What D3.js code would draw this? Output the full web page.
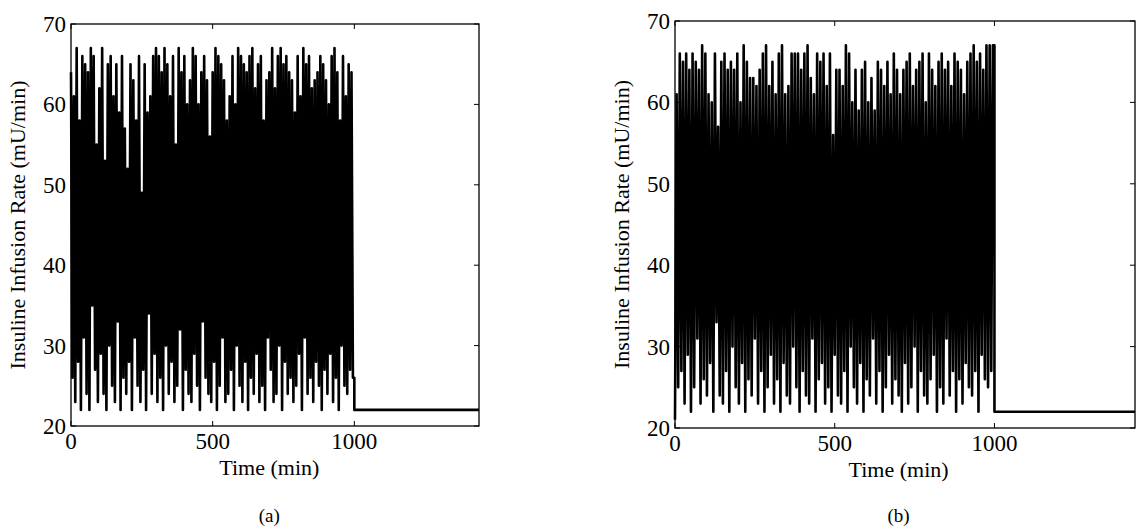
<!DOCTYPE html>
<html><head><meta charset="utf-8">
<script src="https://cdn.jsdelivr.net/npm/d3@7"></script>
<style>body{margin:0;background:#fff}svg{display:block}</style>
</head><body><svg id="c" width="1136" height="531" font-family="'Liberation Serif','Times New Roman',Times,'DejaVu Serif',serif"></svg>
<script>
// rates, one value every 5 min from 0 to 995, then flat at 22
var seriesA = [64,26,61,23,67,28,58,22,66,31,65,24,64,22,67,35,66,27,55,23,
62,29,67,24,53,22,65,30,66,25,61,23,65,33,59,22,66,26,57,24,
52,28,65,22,63,31,58,25,66,23,49,27,65,22,59,34,61,24,66,29,
67,23,66,26,64,22,67,30,65,24,61,28,66,23,55,25,67,32,64,22,
66,27,60,24,63,23,67,29,66,25,60,22,64,33,66,26,63,24,56,23,
64,28,67,22,66,25,65,31,63,23,58,24,61,27,66,22,60,30,67,25,
66,23,65,28,64,22,66,26,67,24,62,29,65,23,66,25,58,22,63,31,
64,27,67,23,62,24,66,30,67,22,65,28,66,24,64,26,63,23,59,25,
66,29,61,22,67,31,65,24,66,26,62,23,63,28,64,25,66,22,65,27,
63,24,60,29,66,23,67,26,64,22,58,30,66,25,61,24,65,27,64,26];
var seriesB = [21,61,25,66,27,65,23,66,29,64,22,66,25,65,31,64,23,67,26,66,
24,61,28,60,22,66,33,57,24,65,23,66,27,64,22,65,30,64,25,66,
23,60,28,67,22,65,26,63,24,63,31,62,23,64,27,66,22,67,25,62,
29,65,23,61,26,66,22,67,28,61,24,62,23,66,30,66,25,66,22,64,
27,66,24,67,23,63,31,61,22,66,26,65,28,66,23,62,25,66,22,56,
29,64,24,64,23,62,27,67,22,66,30,60,25,64,23,59,28,64,22,65,
26,60,24,63,31,59,23,65,27,64,22,62,25,65,29,61,23,66,26,64,
24,61,22,64,28,65,23,66,25,62,30,64,22,65,27,66,24,60,23,66,
26,64,29,62,22,65,25,66,23,64,31,65,24,62,27,66,22,65,26,64,
23,61,28,65,25,66,24,67,27,65,22,66,29,64,26,67,25,67,27,67];
var tailValue = 22, tEnd = 1440, step = 5;
var xTicks = [0, 500, 1000], yTicks = [20, 30, 40, 50, 60, 70];

function toPoints(s) {
  var p = s.map(function (v, i) { return [i * step, v]; });
  p.push([1000, s[s.length - 1]], [1000, tailValue], [tEnd, tailValue]);
  return p;
}

var svg = d3.select("#c");
function panel(data, box, letter) {
  var x = d3.scaleLinear().domain([0, tEnd]).range([box.l, box.r]);
  var y = d3.scaleLinear().domain([20, 70]).range([box.b, box.t]);
  var g = svg.append("g");
  g.append("path").datum(toPoints(data))
    .attr("d", d3.line().x(function (d) { return x(d[0]); }).y(function (d) { return y(d[1]); }))
    .attr("fill", "none").attr("stroke", "#000").attr("stroke-width", 2.6).attr("stroke-linejoin", "round");
  g.append("rect").attr("x", box.l).attr("y", box.t).attr("width", box.r - box.l).attr("height", box.b - box.t)
    .attr("fill", "none").attr("stroke", "#000").attr("stroke-width", 1.3);
  xTicks.forEach(function (t) {
    g.append("line").attr("x1", x(t)).attr("x2", x(t)).attr("y1", box.b).attr("y2", box.b - 5).attr("stroke", "#000");
    g.append("line").attr("x1", x(t)).attr("x2", x(t)).attr("y1", box.t).attr("y2", box.t + 5).attr("stroke", "#000");
    g.append("text").attr("x", x(t)).attr("y", box.b + 23).attr("text-anchor", "middle").attr("font-size", 23).text(t);
  });
  yTicks.forEach(function (t) {
    g.append("line").attr("x1", box.l).attr("x2", box.l + 5).attr("y1", y(t)).attr("y2", y(t)).attr("stroke", "#000");
    g.append("line").attr("x1", box.r).attr("x2", box.r - 5).attr("y1", y(t)).attr("y2", y(t)).attr("stroke", "#000");
    g.append("text").attr("x", box.l - 5).attr("y", y(t) + 8).attr("text-anchor", "end").attr("font-size", 23).text(t);
  });
  var cx = x(500) + (x(1000) - x(500)) * 0.4;
  g.append("text").attr("x", cx).attr("y", box.b + 49).attr("text-anchor", "middle").attr("font-size", 22).text("Time (min)");
  g.append("text").attr("x", cx).attr("y", 522).attr("text-anchor", "middle").attr("font-size", 19).text(letter);
  g.append("text").attr("transform", "translate(" + (box.l - 46) + "," + ((box.t + box.b) / 2) + ") rotate(-90)")
    .attr("text-anchor", "middle").attr("font-size", 22).text("Insuline Infusion Rate (mU/min)");
}
panel(seriesA, {l: 71, r: 479, t: 24, b: 426}, "(a)");
panel(seriesB, {l: 675, r: 1135, t: 21, b: 428}, "(b)");
</script></body></html>
